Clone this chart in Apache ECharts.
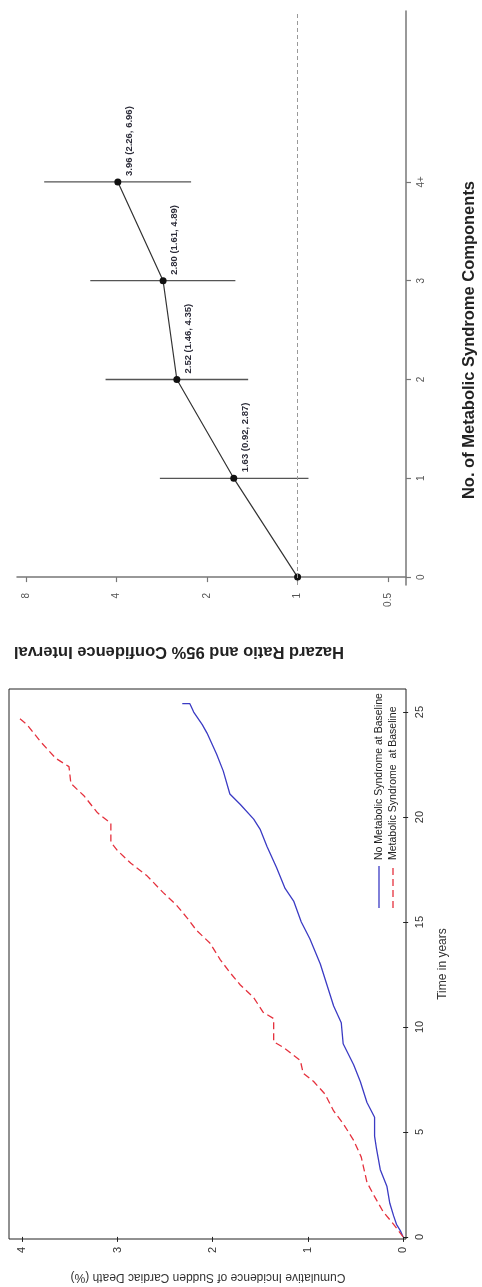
<!DOCTYPE html>
<html>
<head>
<meta charset="utf-8">
<script src="https://cdn.jsdelivr.net/npm/echarts@6/dist/echarts.min.js"></script>
<style>
  html, body { margin: 0; padding: 0; background: #fff; }
  #main { width: 482px; height: 1287px; }
</style>
</head>
<body>
<div id="main"></div>
<script>
// forest plot: hazard ratio by number of components
var components = ['0', '1', '2', '3', '4+'];
var hazardRatio = [1, 1.63, 2.52, 2.80, 3.96];
var ciLow = [null, 0.92, 1.46, 1.61, 2.26];
var ciHigh = [null, 2.87, 4.35, 4.89, 6.96];
var hrTicks = [0.5, 1, 2, 4, 8];

// cumulative incidence curves (time in years, incidence in %)
var noMetsTime = [0, 0.3, 0.6, 1.0, 1.6, 2.4, 3.2, 4.2, 4.8, 5.7, 6.4, 7.4, 8.2, 9.2, 10.2, 11.0, 12.0, 13.0, 14.2, 15.0, 16.0, 16.6, 17.6, 18.6, 19.4, 19.9, 20.6, 21.1, 22.2, 23.0, 24.0, 24.4, 25.0, 25.4, 25.4];
var noMetsInc = [0, 0.03, 0.07, 0.10, 0.14, 0.17, 0.24, 0.28, 0.30, 0.30, 0.38, 0.45, 0.52, 0.63, 0.65, 0.73, 0.80, 0.87, 0.98, 1.07, 1.15, 1.24, 1.33, 1.43, 1.50, 1.57, 1.71, 1.82, 1.89, 1.96, 2.06, 2.11, 2.20, 2.24, 2.32];
var metsTime = [0, 0.6, 1.2, 2.0, 2.6, 3.4, 3.8, 4.6, 5.4, 6.0, 6.8, 7.4, 7.8, 8.4, 9.0, 9.3, 10.4, 10.7, 11.4, 12.0, 12.6, 13.2, 14.0, 14.6, 15.2, 15.8, 16.4, 17.2, 17.8, 18.4, 18.8, 19.7, 20.2, 21.0, 21.6, 22.4, 22.8, 23.6, 24.4, 24.7];
var metsInc = [0, 0.10, 0.21, 0.31, 0.38, 0.42, 0.44, 0.52, 0.63, 0.73, 0.82, 0.94, 1.05, 1.08, 1.25, 1.36, 1.36, 1.47, 1.57, 1.71, 1.82, 1.92, 2.03, 2.17, 2.27, 2.38, 2.52, 2.69, 2.86, 3.00, 3.07, 3.07, 3.21, 3.35, 3.49, 3.51, 3.65, 3.81, 3.95, 4.03];
var timeTicks = [0, 5, 10, 15, 20, 25];
var incTicks = [0, 1, 2, 3, 4];

var blue = '#3b3bc4';
var red = '#e5323e';

var chart = echarts.init(document.getElementById('main'));

function pairs(xs, ys) {
  return xs.map(function (x, i) { return [ys[i], x]; });
}

var hrPoints = hazardRatio.map(function (v, i) { return [v, i]; });
var ciData = [];
for (var i = 0; i < components.length; i++) {
  if (ciLow[i] != null) ciData.push([ciLow[i], ciHigh[i], i]);
}

var option = {
  animation: false,
  grid: [
    { left: 17, right: 76, top: 11, bottom: 702 },
    { left: 9, right: 76, top: 689, bottom: 48, show: true, borderColor: '#222', borderWidth: 1 }
  ],
  xAxis: [
    {
      gridIndex: 0, type: 'log', logBase: 2, min: 0.436, max: 8.57, inverse: true,
      splitLine: { show: false },
      axisLine: { lineStyle: { color: '#777', width: 1.5 } },
      axisTick: { length: 5, customValues: hrTicks, lineStyle: { color: '#777', width: 1.2 } },
      axisLabel: {
        customValues: hrTicks, rotate: 90, margin: 8, color: '#555', fontSize: 10,
        fontFamily: 'Liberation Sans',
        formatter: function (v) { return String(Math.round(v * 10) / 10); }
      }
    },
    {
      gridIndex: 1, type: 'value', min: -0.03, max: 4.14, inverse: true,
      splitLine: { show: false },
      axisLine: { show: false },
      axisTick: { length: 5, customValues: incTicks, lineStyle: { color: '#222' } },
      axisLabel: {
        customValues: incTicks, rotate: 90, margin: 8, color: '#333', fontSize: 11,
        fontFamily: 'Liberation Sans'
      }
    }
  ],
  yAxis: [
    {
      gridIndex: 0, type: 'value', position: 'right', min: -0.08, max: 5.73,
      splitLine: { show: false },
      axisLine: { show: true, lineStyle: { color: '#777', width: 1.5 } },
      axisTick: { show: true, length: 5, customValues: [0, 1, 2, 3, 4], lineStyle: { color: '#777', width: 1.2 } },
      axisLabel: {
        customValues: [0, 1, 2, 3, 4], rotate: 90, margin: 10, color: '#555', fontSize: 10,
        fontFamily: 'Liberation Sans',
        formatter: function (v) { return components[Math.round(v)]; }
      }
    },
    {
      gridIndex: 1, type: 'value', position: 'right', min: -0.1, max: 26.1,
      splitLine: { show: false },
      axisLine: { show: false },
      axisTick: { show: true, length: 5, customValues: timeTicks, lineStyle: { color: '#222' } },
      axisLabel: {
        customValues: timeTicks, rotate: 90, margin: 8, color: '#333', fontSize: 11,
        fontFamily: 'Liberation Sans'
      }
    }
  ],
  series: [
    {
      type: 'custom', xAxisIndex: 0, yAxisIndex: 0,
      data: ciData,
      encode: { x: [0, 1], y: 2 },
      renderItem: function (params, api) {
        var a = api.coord([api.value(0), api.value(2)]);
        var b = api.coord([api.value(1), api.value(2)]);
        return {
          type: 'line',
          shape: { x1: a[0], y1: a[1], x2: b[0], y2: b[1] },
          style: { stroke: '#555', lineWidth: 1.3 }
        };
      }
    },
    {
      type: 'line', xAxisIndex: 0, yAxisIndex: 0,
      data: hrPoints,
      symbol: 'circle', symbolSize: 7,
      itemStyle: { color: '#111' },
      lineStyle: { color: '#333', width: 1.2 },
      label: {
        show: true, position: 'right', distance: 8, rotate: 90,
        align: 'left', verticalAlign: 'middle', offset: [6, 0],
        fontFamily: 'Liberation Sans', fontWeight: 'bold', fontSize: 9.5,
        color: '#2d2d3a',
        formatter: function (p) {
          var i = p.dataIndex;
          if (ciLow[i] == null) return '';
          return hazardRatio[i].toFixed(2) + ' (' + ciLow[i].toFixed(2) + ', ' + ciHigh[i].toFixed(2) + ')';
        }
      },
      markLine: {
        silent: true, symbol: 'none', label: { show: false },
        lineStyle: { color: '#999', type: [4, 3], width: 1 },
        data: [{ xAxis: 1 }]
      }
    },
    {
      name: 'No Metabolic Syndrome at Baseline',
      type: 'line', xAxisIndex: 1, yAxisIndex: 1,
      data: pairs(noMetsTime, noMetsInc),
      showSymbol: false,
      lineStyle: { color: blue, width: 1.3 }
    },
    {
      name: 'Metabolic Syndrome at Baseline',
      type: 'line', xAxisIndex: 1, yAxisIndex: 1,
      data: pairs(metsTime, metsInc),
      showSymbol: false,
      lineStyle: { color: red, width: 1.3, type: [7, 4] }
    }
  ],
  graphic: [
    {
      type: 'text', x: 179, y: 652, rotation: Math.PI,
      style: {
        text: 'Hazard Ratio and 95% Confidence Interval', fill: '#222',
        font: 'bold 16.5px "Liberation Sans"', textAlign: 'center', textVerticalAlign: 'middle'
      }
    },
    {
      type: 'text', x: 469, y: 340, rotation: Math.PI / 2,
      style: {
        text: 'No. of Metabolic Syndrome Components', fill: '#222',
        font: 'bold 16.5px "Liberation Sans"', textAlign: 'center', textVerticalAlign: 'middle'
      }
    },
    {
      type: 'text', x: 443, y: 964, rotation: Math.PI / 2,
      style: {
        text: 'Time in years', fill: '#333',
        font: '12px "Liberation Sans"', textAlign: 'center', textVerticalAlign: 'middle'
      }
    },
    {
      type: 'text', x: 208, y: 1277, rotation: Math.PI,
      style: {
        text: 'Cumulative Incidence of Sudden Cardiac Death (%)', fill: '#333',
        font: '12px "Liberation Sans"', textAlign: 'center', textVerticalAlign: 'middle'
      }
    },
    {
      type: 'group', x: 379, y: 908, rotation: Math.PI / 2,
      children: [
        { type: 'line', shape: { x1: 0, y1: 0, x2: 42, y2: 0 }, style: { stroke: blue, lineWidth: 1.3 } },
        {
          type: 'text', x: 48, y: 0,
          style: {
            text: 'No Metabolic Syndrome at Baseline', fill: '#222',
            font: '10.5px "Liberation Sans"', textVerticalAlign: 'middle'
          }
        },
        { type: 'line', shape: { x1: 0, y1: 14, x2: 42, y2: 14 }, style: { stroke: red, lineWidth: 1.3, lineDash: [7, 4] } },
        {
          type: 'text', x: 48, y: 14,
          style: {
            text: 'Metabolic Syndrome  at Baseline', fill: '#222',
            font: '10.5px "Liberation Sans"', textVerticalAlign: 'middle'
          }
        }
      ]
    }
  ]
};

chart.setOption(option);
</script>
</body>
</html>
